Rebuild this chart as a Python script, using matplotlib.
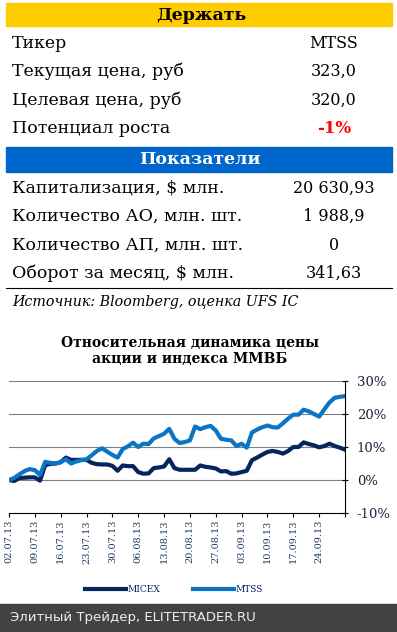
import numpy as np
import matplotlib
matplotlib.use("Agg")
import matplotlib.pyplot as plt
from matplotlib.patches import Rectangle
from matplotlib.lines import Line2D

W, H = 397, 632

# table data
rating = "Держать"
rows_top = ["Тикер", "Текущая цена, руб", "Целевая цена, руб", "Потенциал роста"]
vals_top = ["MTSS", "323,0", "320,0", "-1%"]
rows_bot = ["Капитализация, $ млн.", "Количество АО, млн. шт.",
            "Количество АП, млн. шт.", "Оборот за месяц, $ млн."]
vals_bot = ["20 630,93", "1 988,9", "0", "341,63"]
source = "Источник: Bloomberg, оценка UFS IC"

# chart data (% change since 02.07.13, trading days)
micex = [0.0, -0.3, 0.6, 0.7, 0.8, 0.8, -0.2, 4.5, 4.9, 5.0,
         5.4, 6.8, 6.1, 6.1, 6.1, 6.1, 5.2, 4.8, 4.7, 4.7,
         4.3, 2.8, 4.4, 4.2, 4.2, 2.4, 1.9, 2.0, 3.6, 3.8,
         4.1, 6.3, 3.6, 3.1, 3.1, 3.1, 3.1, 4.4, 4.0, 3.8,
         3.5, 2.6, 2.7, 1.9, 2.0, 2.4, 2.8, 6.0, 6.8, 7.7,
         8.5, 8.8, 8.5, 8.0, 8.8, 10.0, 10.0, 11.4, 10.9, 10.5,
         9.9, 10.3, 11.0, 10.3, 9.8, 9.2]
mtss = [0.0, 0.6, 1.7, 2.7, 3.3, 3.0, 1.5, 5.5, 5.2, 5.0,
        5.4, 6.3, 5.0, 5.6, 6.0, 6.3, 7.5, 8.8, 9.6, 8.6,
        7.6, 6.8, 9.4, 10.2, 11.3, 10.0, 11.0, 10.9, 12.6, 13.3,
        14.0, 15.5, 12.5, 11.2, 11.5, 12.0, 16.2, 15.4, 16.0, 16.4,
        15.0, 12.5, 12.2, 12.0, 10.3, 11.0, 9.8, 14.4, 15.3, 16.0,
        16.5, 16.0, 15.9, 17.2, 18.6, 19.8, 19.8, 21.3, 20.8, 20.0,
        19.2, 21.4, 23.5, 24.9, 25.2, 25.4]
date_labels = ["02.07.13", "09.07.13", "16.07.13", "23.07.13", "30.07.13",
               "06.08.13", "13.08.13", "20.08.13", "27.08.13", "03.09.13",
               "10.09.13", "17.09.13", "24.09.13"]

fig = plt.figure(figsize=(W / 100, H / 100), dpi=100)


def fy(y):
    return 1 - y / H


def fx(x):
    return x / W


serif = "DejaVu Serif"

# header bars
fig.patches.append(Rectangle((fx(6), fy(26)), fx(386), 23 / H, transform=fig.transFigure,
                             color="#FFCC00", zorder=0))
fig.text(fx(201), fy(15), rating, ha="center", va="center", fontsize=12.5,
         fontweight="bold", family=serif)
fig.patches.append(Rectangle((fx(6), fy(172)), fx(386), 25 / H, transform=fig.transFigure,
                             color="#0066CC", zorder=0))
fig.text(fx(200), fy(160), "Показатели", ha="center", va="center", fontsize=12.5,
         fontweight="bold", family=serif, color="white")

for i, (lab, val) in enumerate(zip(rows_top, vals_top)):
    y = fy(43 + i * 28.5)
    fig.text(fx(12), y, lab, ha="left", va="center", fontsize=12.5, family=serif)
    if val.endswith("%"):
        fig.text(fx(334), y, val, ha="center", va="center", fontsize=12, family=serif,
                 color="#FF0000", fontweight="bold")
    else:
        fig.text(fx(334), y, val, ha="center", va="center", fontsize=11.5, family=serif)

for i, (lab, val) in enumerate(zip(rows_bot, vals_bot)):
    y = fy(188 + i * 28.5)
    fig.text(fx(12), y, lab, ha="left", va="center", fontsize=12.5, family=serif)
    fig.text(fx(334), y, val, ha="center", va="center", fontsize=11.5, family=serif)

fig.add_artist(Line2D([fx(6), fx(392)], [fy(288), fy(288)], color="black", lw=0.8))
fig.text(fx(12), fy(302), source, ha="left", va="center", fontsize=10.3,
         family=serif, style="italic")

# chart
fig.text(fx(190), fy(351), "Относительная динамика цены\nакции и индекса ММВБ",
         ha="center", va="center", fontsize=10, fontweight="bold", family=serif,
         linespacing=1.2)

ax = fig.add_axes([fx(9), fy(513), fx(336), 132 / H])
x = np.arange(len(mtss))
ax.plot(x, micex, color="#06245E", lw=3, label="MICEX", solid_joinstyle="round")
ax.plot(x, mtss, color="#0B74C4", lw=3, label="MTSS", solid_joinstyle="round")
ax.set_xlim(0, len(mtss) - 1)
ax.set_ylim(-10, 30)
ax.set_yticks([-10, 0, 10, 20, 30])
ax.set_yticklabels(["-10%", "0%", "10%", "20%", "30%"])
for v in [0, 10, 20, 30]:
    ax.axhline(v, color="#808080", lw=0.8, zorder=0)
ax.yaxis.tick_right()
ax.tick_params(axis="y", direction="inout", length=5, width=0.8, pad=6,
               labelsize=9.5, labelcolor="#1a2440")
for lab in ax.get_yticklabels():
    lab.set_family(serif)
ax.set_xticks(np.arange(0, len(mtss), 5))
ax.set_xticklabels(date_labels + [""], rotation=90, fontsize=7, family=serif,
                   color="#1f3a66")
ax.tick_params(axis="x", direction="out", length=3, width=0.8, pad=2)
for s in ["top", "left"]:
    ax.spines[s].set_visible(False)
ax.spines["right"].set_linewidth(0.8)
ax.spines["bottom"].set_linewidth(0.8)

fig.legend(loc="center", bbox_to_anchor=(fx(174), fy(590)), ncol=2, frameon=False,
           handlelength=4.5, handletextpad=0.2, columnspacing=3.6,
           prop={"family": serif, "size": 6.5}, labelcolor="#06245E")

# footer
fig.patches.append(Rectangle((0, 0), 1, 28 / H, transform=fig.transFigure,
                             color="#424242", zorder=0))
fig.text(fx(10), fy(617), "Элитный Трейдер, ELITETRADER.RU", ha="left", va="center",
         fontsize=9.5, family="DejaVu Sans", color="#eeeeee")

fig.savefig("out.png", dpi=100)
